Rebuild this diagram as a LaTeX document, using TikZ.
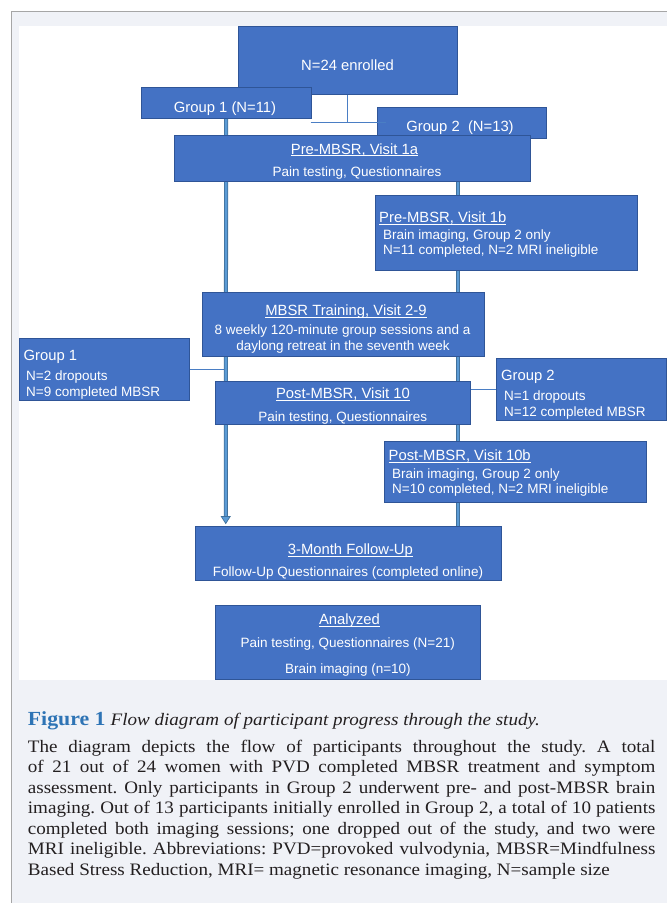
\documentclass[tikz,border=0pt]{standalone}
\usepackage{fontspec}
\setmainfont[FakeStretch=1.09]{Liberation Serif}
\newfontfamily\dsans{Liberation Sans}
\definecolor{boxfill}{HTML}{4472C4}
\definecolor{boxedge}{HTML}{2F5597}
\definecolor{thickfill}{HTML}{5B9BD5}
\definecolor{thickedge}{HTML}{41719C}
\definecolor{thinline}{HTML}{4A7EC4}
\definecolor{panelgray}{HTML}{F0F2F7}
\definecolor{framegray}{HTML}{A6A6A6}
\definecolor{figblue}{HTML}{2E74B5}
\definecolor{captext}{HTML}{231F20}
\newcommand\ulw[1]{\setbox0\hbox{#1}\rlap{\rule[-2.2pt]{\wd0}{0.9pt}}\box0}
\frenchspacing
\pgfdeclarelayer{bg}
\pgfsetlayers{bg,main}
\tikzset{
  box/.style={draw=boxedge, fill=boxfill, line width=0.8pt, inner sep=0pt, anchor=north west},
  big/.style={text=white, font=\dsans\fontsize{14.8}{17}\selectfont, inner sep=0pt, anchor=base},
  sm/.style={text=white, font=\dsans\fontsize{13.5}{16}\selectfont, inner sep=0pt, anchor=base},
  thickln/.style={draw=thickedge, line width=0.8pt, double=thickfill, double distance=2.4pt},
  thinln/.style={draw=thinline, line width=1pt},
  capline/.style={inner sep=0pt, anchor=base west, text=captext, font=\fontsize{17.5}{20}\selectfont},
}
\begin{document}
\begin{tikzpicture}[x=1pt,y=-1pt]
\useasboundingbox (0,0) rectangle (667,903);
% boxes
\node[box, minimum width=219pt, minimum height=68pt] (enr) at (238,26) {};
\node[box, minimum width=169.5pt, minimum height=30.5pt] (g1) at (141,87) {};
\node[box, minimum width=169.5pt, minimum height=31pt] (g2) at (376.5,107) {};
% bracket from enrolled box
\coordinate (brL) at (310.7,122);
\coordinate (brR) at (385.7,122);
\draw[thinln] (enr.south) -- (enr.south |- brL);
\draw[thinln] (brL) -- (brR);
\node[box, minimum width=356.5pt, minimum height=45.5pt] (pre1a) at (173.5,135) {};
\node[box, minimum width=261.5pt, minimum height=75pt] (pre1b) at (375,195) {};
\node[box, minimum width=282pt, minimum height=64pt] (mbsr) at (202,292) {};
\node[box, minimum width=169.5pt, minimum height=62pt] (g1s) at (19,338) {};
\node[box, minimum width=255pt, minimum height=43pt] (post10) at (215,381) {};
\node[box, minimum width=170pt, minimum height=62pt] (g2s) at (496,358) {};
\node[box, minimum width=262pt, minimum height=61pt] (post10b) at (384,441) {};
\node[box, minimum width=306pt, minimum height=54pt] (fu) at (195,526) {};
\node[box, minimum width=265pt, minimum height=74pt] (ana) at (215,605) {};
% texts
\node[big] (tEnr) at (347.5,70.5) {N=24 enrolled};
\node[big] (tG1) at (225,112.5) {Group 1 (N=11)};
\node[big] (tG2) at (460,131) {Group 2\ \ (N=13)};
\node[big] (tPre1a) at (354.5,154) {\ulw{Pre-MBSR, Visit 1a}};
\node[sm] (tPre1aB) at (357,176.5) {Pain testing, Questionnaires};
\node[big, anchor=base west] (tPre1b) at (379,222.5) {\ulw{Pre-MBSR, Visit 1b}};
\node[sm, anchor=base west] (tPre1bB) at (383,239.7) {Brain imaging, Group 2 only};
\node[sm, anchor=base west] (tPre1bC) at (383,254.7) {N=11 completed, N=2 MRI ineligible};
\node[big] (tMbsr) at (346,315.7) {\ulw{MBSR Training, Visit 2-9}};
\node[sm] (tMbsrB) at (342.6,334) {8 weekly 120-minute group sessions and a};
\node[sm] (tMbsrC) at (343,350) {daylong retreat in the seventh week};
\node[big, anchor=base west] (tG1s) at (23.4,360.7) {Group 1};
\node[sm, anchor=base west] (tG1sB) at (26,380) {N=2 dropouts};
\node[sm, anchor=base west] (tG1sC) at (26,396) {N=9 completed MBSR};
\node[big] (tPost10) at (343,398.7) {\ulw{Post-MBSR, Visit 10}};
\node[sm] (tPost10B) at (342.8,421.3) {Pain testing, Questionnaires};
\node[big, anchor=base west] (tG2s) at (501,380.7) {Group 2};
\node[sm, anchor=base west] (tG2sB) at (504,400.3) {N=1 dropouts};
\node[sm, anchor=base west] (tG2sC) at (504,416) {N=12 completed MBSR};
\node[big, anchor=base west] (tPost10b) at (388.5,460.3) {\ulw{Post-MBSR, Visit 10b}};
\node[sm, anchor=base west] (tPost10bB) at (392,478) {Brain imaging, Group 2 only};
\node[sm, anchor=base west] (tPost10bC) at (392,493.3) {N=10 completed, N=2 MRI ineligible};
\node[big] (tFu) at (350.4,554.7) {\ulw{3-Month Follow-Up}};
\node[sm] (tFuB) at (348,576.7) {Follow-Up Questionnaires (completed online)};
\node[big] (tAna) at (349.5,624.3) {\ulw{Analyzed}};
\node[sm] (tAnaB) at (347.7,647.7) {Pain testing, Questionnaires (N=21)};
\node[sm] (tAnaC) at (347.9,673.3) {Brain imaging (n=10)};
% caption
\node[inner sep=0pt, anchor=base west] (capA) at (27.7,725.7) {\textcolor{figblue}{\fontsize{20}{22}\selectfont\bfseries Figure 1}\hspace{5pt}\textcolor{captext}{\fontsize{17.5}{20}\selectfont\itshape Flow diagram of participant progress through the study.}};
\node[capline] (cap1) at (27.7,752.3) {\makebox[627.5pt][s]{The diagram depicts the flow of participants throughout the study. A total}};
\node[capline] (cap2) at (27.7,772.75) {\makebox[627.5pt][s]{of 21 out of 24 women with PVD completed MBSR treatment and symptom}};
\node[capline] (cap3) at (27.7,793.2) {\makebox[627.5pt][s]{assessment. Only participants in Group 2 underwent pre- and post-MBSR brain}};
\node[capline] (cap4) at (27.7,813.65) {\makebox[627.5pt][s]{imaging. Out of 13 participants initially enrolled in Group 2, a total of 10 patients}};
\node[capline] (cap5) at (27.7,834.1) {\makebox[627.5pt][s]{completed both imaging sessions; one dropped out of the study, and two were}};
\node[capline] (cap6) at (27.7,854.55) {\makebox[627.5pt][s]{MRI ineligible. Abbreviations: PVD=provoked vulvodynia, MBSR=Mindfulness}};
\node[capline] (cap7) at (27.7,875) {Based Stress Reduction, MRI= magnetic resonance imaging, N=sample size};
% background and lines behind boxes
\begin{pgfonlayer}{bg}
\fill[white] (0,0) rectangle (667,903);
\fill[panelgray] (11.5,11) rectangle (667,903);
\draw[framegray, line width=1pt] (11.5,903) -- (11.5,11) -- (667,11);
\fill[white] (19,26) rectangle (667,680);
\draw[thinln] (g1s.east) -- (g1s.east -| g1.south);
\draw[thinln] (g2s.west) -- (g2s.west -| enr.east);
\coordinate (lbase) at (225.75,517);
\coordinate (ltip) at (225.75,523.5);
\draw[thickln] (g1.south) -- (lbase);
\filldraw[fill=thickfill, draw=thickedge, line width=0.7pt] (221.3,516.5) -- (230.2,516.5) -- (ltip) -- cycle;
\draw[thickln] (pre1a.south -| enr.east) -- (fu.north -| enr.east);
\end{pgfonlayer}
\end{tikzpicture}
\end{document}
